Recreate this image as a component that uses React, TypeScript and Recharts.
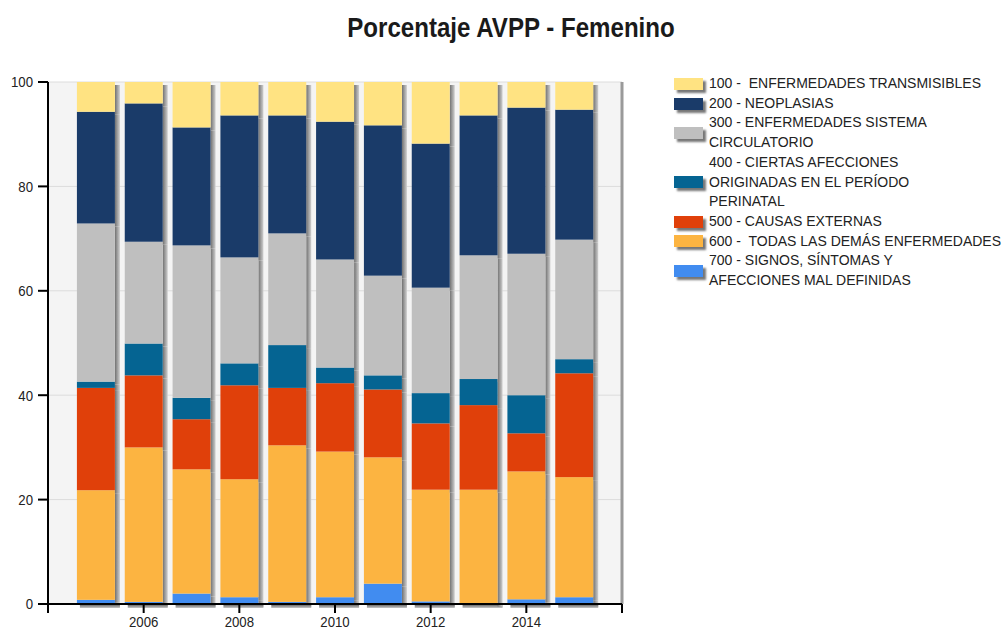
import React from 'react';
import { BarChart, Bar, XAxis, YAxis, CartesianGrid, ReferenceLine } from 'recharts';

const years = [2005, 2006, 2007, 2008, 2009, 2010, 2011, 2012, 2013, 2014, 2015];
const s100 = [5.7, 4.1, 8.7, 6.4, 6.4, 7.6, 8.3, 11.8, 6.4, 4.9, 5.3];
const s200 = [21.4, 26.5, 22.6, 27.2, 22.6, 26.4, 28.8, 27.6, 26.8, 28.0, 24.9];
const s300 = [30.3, 19.5, 29.2, 20.3, 21.4, 20.7, 19.1, 20.2, 23.7, 27.1, 22.9];
const s400 = [1.2, 6.1, 4.1, 4.2, 8.2, 3.0, 2.7, 5.8, 5.0, 7.3, 2.7];
const s500 = [19.6, 13.8, 9.6, 18.0, 11.0, 13.1, 13.0, 12.7, 16.2, 7.3, 19.9];
const s600 = [21.0, 29.6, 23.8, 22.6, 30.0, 27.9, 24.2, 21.4, 21.8, 24.5, 23.0];
const s700 = [0.8, 0.4, 2.0, 1.3, 0.4, 1.3, 3.9, 0.5, 0.1, 0.9, 1.3];

const xTicks = [2004, 2006, 2008, 2010, 2012, 2014, 2016];
const yTicks = [0, 20, 40, 60, 80, 100];

const seriesKeys = ['s700', 's600', 's500', 's400', 's300', 's200', 's100'];
const seriesLabels: Record<string, string> = {
  s100: '100 -  ENFERMEDADES TRANSMISIBLES',
  s200: '200 - NEOPLASIAS',
  s300: '300 - ENFERMEDADES SISTEMA\nCIRCULATORIO',
  s400: '400 - CIERTAS AFECCIONES\nORIGINADAS EN EL PERÍODO\nPERINATAL',
  s500: '500 - CAUSAS EXTERNAS',
  s600: '600 -  TODAS LAS DEMÁS ENFERMEDADES',
  s700: '700 - SIGNOS, SÍNTOMAS Y\nAFECCIONES MAL DEFINIDAS',
};
const seriesColors: Record<string, string> = {
  s100: '#FFE382',
  s200: '#1A3B69',
  s300: '#BFBFBF',
  s400: '#056492',
  s500: '#E0400A',
  s600: '#FCB441',
  s700: '#418CF0',
};
const legendOrder = ['s100', 's200', 's300', 's400', 's500', 's600', 's700'];

const data = years.map((y, i) => ({
  year: y,
  s100: s100[i],
  s200: s200[i],
  s300: s300[i],
  s400: s400[i],
  s500: s500[i],
  s600: s600[i],
  s700: s700[i],
}));

const font = '"Liberation Sans", Arial, sans-serif';

const makeShape = (bottom: boolean) => (props: any) => {
  const { x, y, width, height, fill } = props;
  if (!width || height == null || height <= 0) return <g />;
  return (
    <g>
      <rect x={x + width} y={y + 3} width={5} height={height} fill="url(#sideShadow)" />
      {bottom && <rect x={x + 3} y={y + height} width={width + 2} height={4} fill="url(#bottomShadow)" />}
      <rect x={x} y={y} width={width} height={height} fill={fill} />
    </g>
  );
};

const XTick = (props: any) => {
  const { x, y, payload } = props;
  const v = payload.value;
  if (v === 2004 || v === 2016) return <g />;
  return (
    <g transform={`translate(${x},${y}) scale(0.88,1)`}>
      <text x={0} y={0} dy="0.71em" textAnchor="middle" fill="#222" fontSize={15} fontFamily={font}>
        {String(v)}
      </text>
    </g>
  );
};

const YTick = (props: any) => {
  const { x, y, payload } = props;
  return (
    <g transform={`translate(${x},${y}) scale(0.88,1)`}>
      <text x={0} y={0} dy="0.355em" textAnchor="end" fill="#222" fontSize={15} fontFamily={font}>
        {String(payload.value)}
      </text>
    </g>
  );
};

export default function App() {
  return (
    <div style={{ position: 'absolute', left: 0, top: 0, width: 1004, height: 631, background: '#fff' }}>
      <div
        style={{
          position: 'absolute',
          left: 511,
          top: 14,
          transform: 'translateX(-50%) scaleX(0.86)',
          whiteSpace: 'nowrap',
          fontFamily: font,
          fontWeight: 'bold',
          fontSize: 28,
          lineHeight: '28px',
          color: '#1a1a1a',
        }}
      >
        Porcentaje AVPP - Femenino
      </div>
      <BarChart
        width={1004}
        height={631}
        data={data}
        margin={{ top: 82, right: 382, bottom: 0, left: 0 }}
        style={{ position: 'absolute', left: 0, top: 0 }}
      >
        <defs>
          <linearGradient id="sideShadow" x1="0" y1="0" x2="1" y2="0">
            <stop offset="0%" stopColor="#707070" />
            <stop offset="100%" stopColor="#d0d0d0" />
          </linearGradient>
          <linearGradient id="bottomShadow" x1="0" y1="0" x2="0" y2="1">
            <stop offset="0%" stopColor="#505050" />
            <stop offset="100%" stopColor="#c8c8c8" />
          </linearGradient>
        </defs>
        <CartesianGrid vertical={false} fill="#f4f4f4" stroke="#dcdcdc" horizontalValues={yTicks} />
        <XAxis
          dataKey="year"
          type="number"
          domain={[2004, 2016]}
          ticks={xTicks}
          interval={0}
          height={27}
          tickSize={9}
          tickMargin={3}
          axisLine={{ stroke: '#000', strokeWidth: 2 }}
          tickLine={{ stroke: '#000', strokeWidth: 2 }}
          tick={<XTick />}
          allowDataOverflow
        />
        <YAxis
          type="number"
          domain={[0, 100]}
          ticks={yTicks}
          interval={0}
          width={48}
          tickSize={10}
          tickMargin={5}
          axisLine={{ stroke: '#000', strokeWidth: 2 }}
          tickLine={{ stroke: '#000', strokeWidth: 2 }}
          tick={<YTick />}
        />
        <ReferenceLine x={2016} stroke="#9a9a9a" strokeWidth={3} />
        {seriesKeys.map((k, idx) => (
          <Bar
            key={k}
            dataKey={k}
            stackId="a"
            fill={seriesColors[k]}
            barSize={38}
            isAnimationActive={false}
            shape={makeShape(idx === 0)}
          />
        ))}
      </BarChart>
      <div
        style={{
          position: 'absolute',
          left: 674,
          top: 74,
          fontFamily: font,
          fontSize: 14,
          lineHeight: '19.7px',
          color: '#222',
        }}
      >
        {legendOrder.map((k) => (
          <div key={k} style={{ display: 'flex', alignItems: 'center' }}>
            <div
              style={{
                width: 29,
                height: 12,
                background: seriesColors[k],
                boxShadow: '3px 3px 2px #777',
                flexShrink: 0,
              }}
            />
            <div style={{ marginLeft: 6, whiteSpace: 'pre' }}>{seriesLabels[k]}</div>
          </div>
        ))}
      </div>
    </div>
  );
}
